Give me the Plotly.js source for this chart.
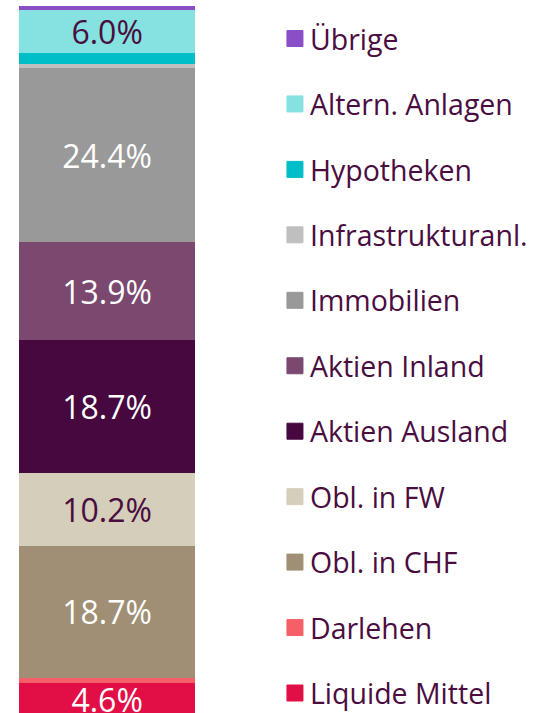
<!DOCTYPE html>
<html>
<head>
<meta charset="utf-8">
<script src="https://cdn.plot.ly/plotly-3.0.1.min.js"></script>
<style>html,body{margin:0;padding:0;background:#fff;}#chart{width:533px;height:713px;}</style>
</head>
<body>
<div id="chart"></div>
<script>
// Stack order: bottom to top
var categories = ["Liquide Mittel", "Darlehen", "Obl. in CHF", "Obl. in FW", "Aktien Ausland", "Aktien Inland", "Immobilien", "Infrastrukturanl.", "Hypotheken", "Altern. Anlagen", "Übrige"];
var values = [4.6, 0.7, 18.7, 10.2, 18.7, 13.9, 24.4, 0.7, 1.5, 6.0, 0.6];
var labels = ["4.6%", "", "18.7%", "10.2%", "18.7%", "13.9%", "24.4%", "", "", "6.0%", ""];
var colors = ["#e20f46", "#f65f68", "#a08f74", "#d5cebb", "#46083f", "#7b4870", "#999999", "#bfbfbf", "#00bec7", "#85e2e1", "#8a4ec6"];
var labelColors = ["#ffffff", "#ffffff", "#ffffff", "#4a0d3f", "#ffffff", "#ffffff", "#ffffff", "#ffffff", "#ffffff", "#4a0d3f", "#ffffff"];

var FONT = "Open Sans, sans-serif";
var TEXTCOL = "#4a0d3f";

var traces = [];
for (var i = 0; i < categories.length; i++) {
  traces.push({
    type: "bar",
    name: categories[i],
    x: [0],
    y: [values[i]],
    width: [1],
    text: [labels[i]],
    textposition: "inside",
    insidetextanchor: "middle",
    constraintext: "none",
    textangle: 0,
    textfont: {family: FONT, size: 32, color: labelColors[i]},
    marker: {color: colors[i], line: {width: 0}},
    hoverinfo: "name+y",
    showlegend: false
  });
}
// Legend entries (top to bottom), as square markers
for (var j = categories.length - 1; j >= 0; j--) {
  traces.push({
    type: "scatter",
    mode: "markers",
    name: categories[j],
    x: [null],
    y: [null],
    legendgroup: "g" + j,
    marker: {symbol: "square", size: 16, color: colors[j], line: {width: 1, color: colors[j]}},
    hoverinfo: "skip",
    showlegend: true
  });
}

var layout = {
  width: 533,
  height: 713,
  margin: {l: 0, r: 0, t: 6, b: 0, pad: 0},
  paper_bgcolor: "#ffffff",
  plot_bgcolor: "#ffffff",
  barmode: "stack",
  showlegend: true,
  uniformtext: {mode: "show", minsize: 32},
  xaxis: {domain: [19/533, 196/533], range: [-0.5, 0.5], visible: false, fixedrange: true},
  yaxis: {range: [0.42, 100], visible: false, fixedrange: true},
  legend: {
    x: 0.5084, xanchor: "left",
    y: 0.9795, yanchor: "top",
    traceorder: "grouped",
    tracegroupgap: 25.4,
    font: {family: FONT, size: 28.5, color: TEXTCOL},
    itemwidth: 30,
    bgcolor: "rgba(0,0,0,0)",
    borderwidth: 0
  },
  font: {family: FONT}
};

function parseTranslate(el) {
  var t = (el && el.getAttribute("transform")) || "";
  var m = /translate\(\s*([-\d.e]+)[\s,]+([-\d.e]+)\s*\)/.exec(t);
  return m ? [parseFloat(m[1]), parseFloat(m[2])] : [0, 0];
}

Plotly.newPlot("chart", traces, layout, {displayModeBar: false, staticPlot: true}).then(function (gd) {
  // nudge legend swatches closer to their labels, as in the reference
  var syms = gd.querySelectorAll(".legend .legendsymbols");
  for (var k = 0; k < syms.length; k++) syms[k].setAttribute("transform", "translate(5,0)");
  // Plotly pushes the tall legend up to fit; place the first entry where the reference has it
  var leg = gd.querySelector("g.legend");
  var first = leg ? leg.querySelector("g.traces") : null;
  if (leg && first) {
    var lt = parseTranslate(leg);
    var ft = parseTranslate(first);
    leg.setAttribute("transform", "translate(" + lt[0] + "," + (38.5 - ft[1]) + ")");
  }
});
</script>
</body>
</html>
